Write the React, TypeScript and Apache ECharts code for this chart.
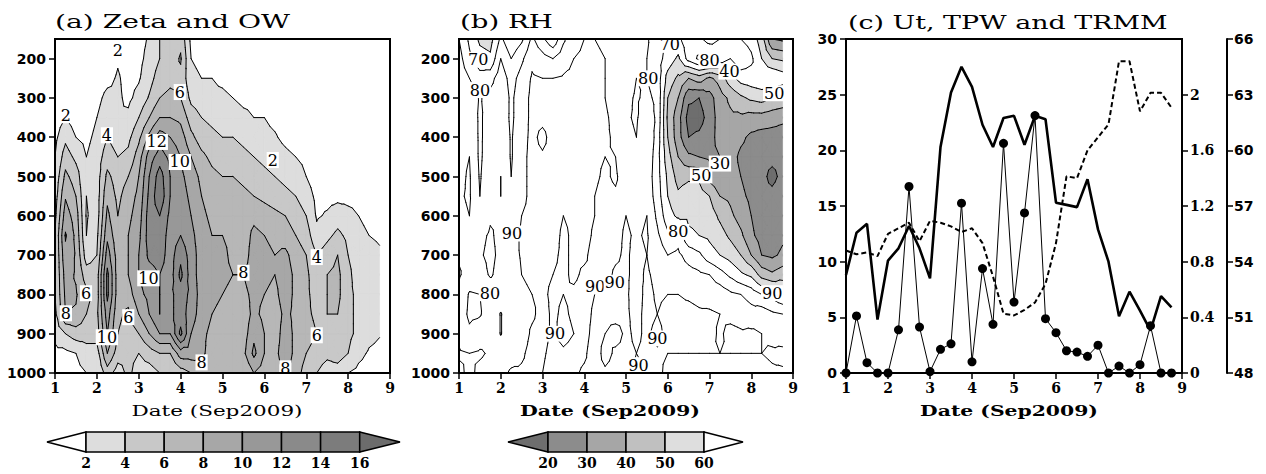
import React, { useEffect, useRef } from 'react';
import * as echarts from 'echarts';

// 6-hourly analysis times (day of September 2009)
const times = [1, 1.25, 1.5, 1.75, 2, 2.25, 2.5, 2.75, 3, 3.25, 3.5, 3.75, 4, 4.25, 4.5, 4.75, 5, 5.25, 5.5, 5.75, 6, 6.25, 6.5, 6.75, 7, 7.25, 7.5, 7.75, 8, 8.25, 8.5, 8.75];
// pressure levels (hPa), top to bottom
const pressureLevels = [150, 200, 250, 300, 350, 400, 450, 500, 550, 600, 650, 700, 750, 800, 850, 900, 950, 1000];
const pressureTicks = [200, 300, 400, 500, 600, 700, 800, 900, 1000];

// Relative vorticity / OW (1e-5 s-1): one vertical profile per time, 150 -> 1000 hPa
const zetaProfiles = [
  [0, 0, 0, 0.5, 1, 1.5, 2, 2.5, 3, 3.5, 4, 4, 4, 4, 3.5, 2.5, 1.5, 1],
  [0, 0, 0, 0.5, 2, 3.5, 5, 6.5, 7.8, 9, 10.2, 9.5, 8.8, 8.4, 8, 4, 1.5, 1],
  [0, 0, 0, 0.5, 1, 2, 3.5, 5, 6, 7, 7.5, 7.8, 7.8, 8.2, 7.8, 5, 2, 1.5],
  [0, 0, 0.5, 0.5, 1, 1.5, 2, 2, 2, 1.8, 2, 3, 5, 6.5, 6, 5, 3, 2],
  [0, 0.5, 1, 1.5, 2, 2.5, 3, 3, 3, 3, 3.5, 4, 5, 5, 5.5, 5, 3, 2],
  [0.5, 1, 1.5, 2.5, 3, 4, 5, 6.5, 7.5, 8.5, 9.5, 11, 12.5, 12.5, 11, 10, 8, 5],
  [1.5, 1.8, 2.2, 2.3, 2, 3, 4, 5, 5.5, 6, 6.5, 7, 7, 7, 6.5, 6, 5, 3],
  [1.2, 1.2, 1.4, 1.6, 2.4, 3.5, 4.5, 6, 7, 7.5, 8, 8, 8, 7, 5.5, 5, 4.5, 4.5],
  [1.4, 1.5, 1.8, 2.6, 4, 5.5, 7, 8, 8.5, 9, 9.5, 10, 10, 9.5, 8, 6, 4, 3],
  [2.2, 2.6, 3.2, 4.2, 6, 8.5, 11, 12, 12.5, 13, 13, 12.5, 11, 10.5, 10, 8, 5, 3],
  [4, 4, 5, 6, 8, 11, 13, 15, 15.5, 14, 13.5, 13, 12, 12, 12, 10, 6, 4],
  [4.5, 5, 5.5, 6.5, 8, 10, 11.5, 12, 12, 11.5, 11, 11, 11, 11.5, 11.5, 10, 6, 4],
  [5.5, 6.2, 5.5, 6, 7.5, 9, 10, 10.5, 11, 11.5, 12, 13.5, 14.5, 13, 13, 14.5, 9, 5],
  [1.5, 2, 2.5, 3.5, 5, 6.5, 8, 9, 9.5, 10, 10.5, 11, 11, 11.5, 11, 10, 9, 6],
  [0.5, 1.5, 2, 3, 4, 5, 6.5, 7.5, 8, 8.5, 9, 9, 9, 9, 9, 8.5, 8.5, 7],
  [0, 1, 2, 2.5, 3.5, 4.5, 5.5, 6.5, 7, 7.5, 8, 8, 8, 8.5, 8, 7.5, 7, 6],
  [0, 0.5, 1.5, 2.5, 3, 4, 5, 6, 7, 7.5, 8, 8.5, 8.5, 8, 7.5, 7, 7, 6.5],
  [0, 0.5, 1, 2, 3, 4, 5, 6, 7, 7.5, 7.5, 7.5, 8, 7.5, 7, 7, 7, 6],
  [0, 0, 1, 1.5, 2.5, 3.5, 4.5, 5.5, 6.5, 7, 7, 7, 8, 7.5, 7, 7, 7.5, 6],
  [0, 0, 0.5, 1.5, 2, 3, 4, 5, 6, 7.5, 8.5, 9, 9, 8.5, 8.5, 9.5, 10.5, 8],
  [0, 0, 0.5, 1, 2, 2.5, 3.5, 4.5, 5.5, 7, 8, 8.5, 8.5, 8, 7.5, 8, 8, 7],
  [0, 0, 0, 0.5, 1.5, 2.2, 3, 4, 5, 6.5, 7.5, 8, 8, 7.5, 7, 7, 7.5, 7],
  [0, 0, 0, 0.5, 1, 1.5, 2.5, 3.5, 4.5, 6, 7, 8.5, 9, 9, 8.5, 9, 9, 8.5],
  [0, 0, 0, 0, 0.5, 1, 2, 3, 4, 5, 6, 7, 7.5, 7.5, 7.5, 7.5, 7.5, 7],
  [0, 0, 0, 0, 0, 0.5, 1.5, 2, 3, 4, 5, 6, 6.5, 6.5, 6.5, 7, 6, 5],
  [0, 0, 0, 0, 0, 0, 0.5, 1, 1.5, 1.8, 2.5, 4, 4.5, 5, 5.5, 6, 5, 4],
  [0, 0, 0, 0, 0, 0, 0.5, 1, 1.5, 2.2, 3.5, 5, 6, 6, 6, 5.5, 4.5, 3],
  [0, 0, 0, 0, 0, 0, 0.5, 1, 1.5, 3, 4.5, 6, 6.5, 6.5, 6, 5.5, 5, 3],
  [0, 0, 0, 0, 0, 0, 0.5, 1, 1.5, 2.5, 3.5, 4, 4.5, 4.5, 4.5, 4.5, 4, 2],
  [0, 0, 0, 0, 0, 0, 0.5, 1, 1.5, 2, 2.5, 3, 3, 3.5, 3.5, 3.5, 2.5, 1.5],
  [0, 0, 0, 0, 0, 0, 0, 0.5, 1, 1.5, 2, 2.5, 2.5, 3, 3, 2.5, 1.8, 1.2],
  [0, 0, 0, 0, 0, 0, 0, 0.5, 1, 1.5, 1.8, 2.2, 2.5, 2.5, 2.4, 2.1, 1.6, 1.2],
];

// Relative humidity (%): one vertical profile per time, 150 -> 1000 hPa
const rhProfiles = [
  [80, 84, 86, 88, 88, 87, 88, 88, 89, 88, 88, 89, 91, 88, 86, 88, 91, 88],
  [68, 72, 80, 86, 88, 89, 90, 91, 91, 90, 89, 88, 86, 79, 78, 82, 90, 92],
  [58, 64, 74, 79, 78, 78, 78, 79, 80, 84, 88, 89, 86, 80, 79, 86, 91, 88],
  [56, 62, 76, 84, 86, 86, 87, 88, 88, 89, 91, 92, 91, 84, 86, 88, 89, 87],
  [72, 80, 86, 88, 87, 88, 89, 90, 90, 89, 88, 88, 87, 86, 79.5, 79.5, 86, 88],
  [62, 70, 76, 78, 78, 79, 79, 80, 81, 84, 88, 86, 84, 84, 85, 86, 87, 91],
  [68, 78, 84, 86, 86, 87, 88, 88, 89, 90, 91, 91, 90, 89, 88, 87, 89, 91],
  [82, 88, 91, 92, 92, 92, 92, 92, 91, 91, 91, 91, 91, 90, 89, 91, 92, 92],
  [72, 84, 90, 92, 92, 88, 91, 92, 92, 92, 92, 91, 91, 91, 92, 92, 91, 90],
  [62, 80, 90, 92, 93, 93, 92, 92, 92, 92, 92, 91, 90, 89, 89, 89, 88, 87],
  [78, 86, 91, 93, 93, 93, 93, 92, 91, 90, 89, 89, 89, 90, 91, 92, 89, 88],
  [88, 90, 92, 93, 93, 93, 93, 93, 92, 91, 91, 91, 91, 89, 89, 90, 88, 89],
  [90, 91, 92, 92, 92, 92, 92, 92, 92, 92, 92, 91, 89, 88, 88, 88, 89, 91],
  [90, 91, 91, 91, 91, 91, 91, 91, 90, 90, 89, 88, 89, 90, 91, 92, 93, 92],
  [89, 90, 90, 90, 91, 91, 90, 89, 88, 88, 88, 88, 88, 91, 91, 90, 88, 91],
  [88, 89, 88, 87, 88, 89, 90, 91, 89, 88, 88, 89, 91, 91, 92, 88, 91, 92],
  [87, 86, 84, 82, 81, 82, 84, 86, 87, 90, 91, 91, 91, 91, 91, 91, 91, 92],
  [86, 82, 80, 79, 79, 80, 82, 84, 85, 88, 89, 88, 88, 87, 88, 89, 90, 89],
  [82, 80, 80, 82, 86, 89, 88, 86, 87, 90, 91, 90, 91, 92, 92, 91, 91, 90],
  [70, 74, 76, 78, 78, 76, 74, 74, 75, 78, 82, 86, 88, 89, 90, 88, 91, 92],
  [74, 66, 56, 50, 48, 50, 54, 58, 60, 64, 72, 80, 86, 90, 92, 92, 90, 88],
  [68, 58, 48, 40, 34, 34, 40, 46, 52, 58, 76, 82, 86, 90, 92, 92, 90, 88],
  [76, 74, 40, 22, 16, 20, 32, 48, 56, 58, 62, 76, 84, 89, 92, 93, 90, 88],
  [72, 82, 45, 20, 16, 22, 30, 48, 55, 57, 60, 72, 82, 88, 91, 92, 90, 89],
  [66, 82, 38, 26, 24, 26, 28, 36, 50, 55, 58, 64, 80, 87, 91, 92, 90, 88],
  [70, 76, 44, 36, 35, 34, 30, 32, 40, 48, 54, 60, 74, 86, 90, 89, 90, 88],
  [78, 70, 56, 42, 38, 36, 34, 34, 38, 42, 48, 56, 68, 82, 88, 92, 90, 89],
  [70, 78, 64, 48, 38, 32, 28, 30, 32, 36, 42, 50, 62, 80, 87, 91, 90, 88],
  [66, 72, 66, 52, 36, 28, 26, 26, 28, 30, 32, 40, 58, 76, 84, 92, 90, 88],
  [55, 60, 68, 54, 36, 26, 22, 22, 22, 24, 26, 30, 46, 70, 86, 90, 90, 88],
  [30, 50, 70, 50, 34, 26, 22, 18, 22, 22, 24, 28, 42, 66, 82, 88, 91, 89],
  [28, 48, 66, 48, 32, 26, 22, 22, 24, 26, 28, 32, 46, 60, 80, 86, 92, 89],
];

// shading thresholds and greys
const zetaBounds = [2, 4, 6, 8, 10, 12, 14, 16];
const zetaFills = [null, '#dddddd', '#c8c8c8', '#b7b7b7', '#a7a7a7', '#989898', '#8a8a8a', '#7c7c7c', '#6c6c6c'];
const zetaLineLevels = [2, 4, 6, 8, 10, 12, 14, 16];
const rhBounds = [20, 30, 40, 50, 60];
const rhFills = ['#6e6e6e', '#8c8c8c', '#a6a6a6', '#c0c0c0', '#dedede', null];
const rhLineLevels = [20, 30, 40, 50, 60, 70, 80, 90];

// contour labels: [day, hPa, text]
const zetaLabels: [number, number, string][] = [
  [1.26, 344, '2'], [2.5, 179, '2'], [6.2, 458, '2'], [2.24, 395, '4'], [3.98, 285, '6'],
  [3.43, 412, '12'], [3.98, 463, '10'], [7.25, 705, '4'], [1.26, 848, '8'], [1.74, 797, '6'],
  [3.23, 759, '10'], [5.5, 745, '8'], [2.75, 858, '6'], [2.24, 909, '10'], [7.25, 904, '6'],
  [4.5, 973, '8'], [6.5, 988, '8'],
];
const rhLabels: [number, number, string][] = [
  [1.46, 203, '70'], [1.5, 280, '80'], [5.53, 250, '80'], [6.05, 165, '70'], [7.0, 205, '80'],
  [7.48, 233, '40'], [8.55, 288, '50'], [6.8, 497, '50'], [7.25, 467, '30'], [2.27, 645, '90'],
  [6.25, 641, '80'], [1.74, 797, '80'], [4.26, 780, '90'], [4.73, 770, '90'], [3.3, 900, '90'],
  [5.75, 912, '90'], [5.3, 980, '90'], [8.5, 797, '90'],
];

// panel (c) time series
const utWind = [8.8, 12.6, 13.4, 4.8, 10.1, 11.2, 13.2, 11.2, 8.5, 20.3, 25.2, 27.5, 25.7, 22.3, 20.3, 22.9, 23.1, 20.5, 23.1, 22.8, 15.3, 15.1, 14.9, 17.4, 12.9, 10.0, 5.1, 7.3, 5.6, 3.8, 6.9, 5.9];
const tpw = [54.6, 54.4, 54.5, 54.3, 55.5, 55.8, 56.1, 55.1, 56.2, 56.1, 55.9, 55.6, 55.8, 55.0, 53.2, 51.2, 51.1, 51.4, 51.8, 52.8, 55.0, 58.6, 58.5, 60.0, 60.7, 61.4, 64.8, 64.8, 62.1, 63.1, 63.1, 62.3];
const trmm = [0, 0.41, 0.074, 0, 0, 0.31, 1.34, 0.33, 0.01, 0.17, 0.21, 1.22, 0.08, 0.75, 0.35, 1.65, 0.51, 1.15, 1.85, 0.39, 0.29, 0.16, 0.15, 0.12, 0.2, 0, 0.05, 0, 0.06, 0.34, 0, 0];

// ---- filled contour geometry (piecewise-linear on triangles) ----
type V3 = [number, number, number];

function clipPoly(poly: V3[], c: number, keepAbove: boolean): V3[] {
  const out: V3[] = [];
  for (let i = 0; i < poly.length; i++) {
    const a = poly[i];
    const b = poly[(i + 1) % poly.length];
    const ain = keepAbove ? a[2] >= c : a[2] <= c;
    const bin = keepAbove ? b[2] >= c : b[2] <= c;
    if (ain) out.push(a);
    if (ain !== bin) {
      const t = (c - a[2]) / (b[2] - a[2]);
      out.push([a[0] + t * (b[0] - a[0]), a[1] + t * (b[1] - a[1]), c]);
    }
  }
  return out;
}

function buildContours(profiles: number[][], bounds: number[], fills: (string | null)[], lineLevels: number[]) {
  const bandPolys: number[][][][] = fills.map(() => []);
  const segs: number[][][][] = lineLevels.map(() => []);
  for (let i = 0; i < times.length - 1; i++) {
    for (let j = 0; j < pressureLevels.length - 1; j++) {
      const a: V3 = [times[i], pressureLevels[j], profiles[i][j]];
      const b: V3 = [times[i + 1], pressureLevels[j], profiles[i + 1][j]];
      const c: V3 = [times[i + 1], pressureLevels[j + 1], profiles[i + 1][j + 1]];
      const d: V3 = [times[i], pressureLevels[j + 1], profiles[i][j + 1]];
      const m: V3 = [(a[0] + b[0]) / 2, (a[1] + d[1]) / 2, (a[2] + b[2] + c[2] + d[2]) / 4];
      const tris: V3[][] = [[a, b, m], [b, c, m], [c, d, m], [d, a, m]];
      for (const tri of tris) {
        for (let k = 0; k < fills.length; k++) {
          if (!fills[k]) continue;
          let poly: V3[] = tri;
          if (k > 0) poly = clipPoly(poly, bounds[k - 1], true);
          if (poly.length >= 3 && k < bounds.length) poly = clipPoly(poly, bounds[k], false);
          if (poly.length >= 3) bandPolys[k].push(poly.map((p) => [p[0], p[1]]));
        }
        lineLevels.forEach((lv, li) => {
          const pts: number[][] = [];
          for (let e = 0; e < 3; e++) {
            const p = tri[e];
            const q = tri[(e + 1) % 3];
            if ((p[2] >= lv) !== (q[2] >= lv)) {
              const t = (lv - p[2]) / (q[2] - p[2]);
              pts.push([p[0] + t * (q[0] - p[0]), p[1] + t * (q[1] - p[1])]);
            }
          }
          if (pts.length === 2) segs[li].push(pts);
        });
      }
    }
  }
  return { bandPolys, segs };
}

const zetaGeom = buildContours(zetaProfiles, zetaBounds, zetaFills, zetaLineLevels);
const rhGeom = buildContours(rhProfiles, rhBounds, rhFills, rhLineLevels);

// multi-polygon and multi-segment shapes so each band / level is one path
const ContourFill = echarts.graphic.extendShape({
  type: 'contourFill',
  shape: { polys: [] as number[][][] },
  buildPath(ctx: any, shape: any) {
    for (const poly of shape.polys) {
      ctx.moveTo(poly[0][0], poly[0][1]);
      for (let k = 1; k < poly.length; k++) ctx.lineTo(poly[k][0], poly[k][1]);
      ctx.closePath();
    }
  },
});
const ContourLines = echarts.graphic.extendShape({
  type: 'contourLines',
  shape: { segs: [] as number[][][] },
  buildPath(ctx: any, shape: any) {
    for (const s of shape.segs) {
      ctx.moveTo(s[0][0], s[0][1]);
      ctx.lineTo(s[1][0], s[1][1]);
    }
  },
});
echarts.graphic.registerShape('contourFill', ContourFill);
echarts.graphic.registerShape('contourLines', ContourLines);

function contourRenderer(geom: ReturnType<typeof buildContours>, fills: (string | null)[], labels: [number, number, string][]) {
  return (_params: any, api: any) => {
    const px = (p: number[]) => api.coord([p[0], p[1]]);
    const children: any[] = [];
    geom.bandPolys.forEach((polys, k) => {
      const col = fills[k];
      if (!col || !polys.length) return;
      children.push({
        type: 'contourFill',
        shape: { polys: polys.map((poly) => poly.map(px)) },
        style: { fill: col, stroke: col, lineWidth: 0.6 },
        silent: true,
      });
    });
    geom.segs.forEach((segs) => {
      if (!segs.length) return;
      children.push({
        type: 'contourLines',
        shape: { segs: segs.map((s) => [px(s[0]), px(s[1])]) },
        style: { fill: 'none', stroke: '#000', lineWidth: 1, lineCap: 'round' },
        silent: true,
      });
    });
    labels.forEach(([x, p, t]) => {
      const [cx, cy] = px([x, p]);
      children.push({
        type: 'text',
        x: cx,
        y: cy,
        style: {
          text: t,
          font: '16px "DejaVu Serif"',
          fill: '#000',
          align: 'center',
          verticalAlign: 'middle',
          backgroundColor: '#fff',
          padding: [0, 1, 0, 1],
        },
        silent: true,
      });
    });
    return { type: 'group', children };
  };
}

function measure(text: string, font: string) {
  const ctx = document.createElement('canvas').getContext('2d')!;
  ctx.font = font;
  return ctx.measureText(text).width || 1;
}

function stretchedText(text: string, x: number, y: number, width: number, size: number, bold: boolean, align: string) {
  const font = `${bold ? 'bold ' : ''}${size}px "DejaVu Serif"`;
  const w = measure(text, font);
  return {
    type: 'text',
    x,
    y,
    scaleX: width / w,
    style: { text, font, fill: '#000', align, verticalAlign: 'middle' },
    silent: true,
  };
}

function colorBar(bounds: number[], fills: (string | null)[], tipL: number, start: number, step: number, tipR: number) {
  const top = 432;
  const bot = 452;
  const mid = (top + bot) / 2;
  const els: any[] = [];
  const stroke = { stroke: '#000', lineWidth: 1.5 };
  const end = start + step * (bounds.length - 1);
  els.push({ type: 'polygon', shape: { points: [[start, top], [tipL, mid], [start, bot]] }, style: { fill: fills[0] || '#fff', ...stroke } });
  for (let k = 1; k < bounds.length; k++) {
    els.push({ type: 'rect', shape: { x: start + step * (k - 1), y: top, width: step, height: bot - top }, style: { fill: fills[k] || '#fff', ...stroke } });
  }
  els.push({ type: 'polygon', shape: { points: [[end, top], [tipR, mid], [end, bot]] }, style: { fill: fills[bounds.length] || '#fff', ...stroke } });
  bounds.forEach((b, k) => {
    els.push({
      type: 'text',
      x: start + step * k,
      y: 463,
      style: { text: String(b), font: 'bold 14px "DejaVu Serif"', fill: '#000', align: 'center', verticalAlign: 'middle' },
    });
  });
  return els;
}

function buildOption() {
  const axisLine = { show: true, onZero: false, lineStyle: { color: '#000', width: 2 } };
  const axisTick = { show: true, length: 6, lineStyle: { color: '#000', width: 1.5 } };
  const plain = (v: number) => String(Math.round(v * 100) / 100);
  const sansLabel = { fontFamily: 'DejaVu Sans', fontWeight: 'bold', fontSize: 14, color: '#000', formatter: plain };
  const serifLabel = { fontFamily: 'DejaVu Serif', fontWeight: 'bold', fontSize: 14, color: '#000', formatter: plain };
  const gridBase = { top: 39, height: 334, show: true, borderColor: '#000', borderWidth: 2, backgroundColor: 'transparent', z: 10 };

  const xAxes = [0, 1, 2].map((g) => ({
    gridIndex: g,
    type: 'value',
    min: 1,
    max: 9,
    interval: 1,
    axisLine,
    axisTick,
    axisLabel: { ...serifLabel, margin: 8 },
    splitLine: { show: false },
    z: 10,
  }));
  const pressureAxis = (g: number) => ({
    gridIndex: g,
    type: 'value',
    inverse: true,
    min: 150,
    max: 1000,
    axisLine,
    axisTick: { ...axisTick, customValues: pressureTicks },
    axisLabel: { ...sansLabel, margin: 9, customValues: pressureTicks },
    splitLine: { show: false },
    z: 10,
  });

  return {
    animation: false,
    backgroundColor: '#fff',
    grid: [
      { ...gridBase, left: 55, width: 335 },
      { ...gridBase, left: 459, width: 334 },
      { ...gridBase, left: 846, width: 336 },
    ],
    xAxis: xAxes,
    yAxis: [
      pressureAxis(0),
      pressureAxis(1),
      {
        gridIndex: 2, type: 'value', position: 'left', min: 0, max: 30, interval: 5,
        axisLine, axisTick, axisLabel: { ...sansLabel, margin: 9 }, splitLine: { show: false }, z: 10,
      },
      {
        gridIndex: 2, type: 'value', position: 'right', min: 0, max: 2.4, interval: 0.4,
        axisLine, axisTick, axisLabel: { ...serifLabel, margin: 8, showMaxLabel: false }, splitLine: { show: false }, z: 10,
      },
      {
        gridIndex: 2, type: 'value', position: 'right', offset: 45, min: 48, max: 66, interval: 3,
        axisLine, axisTick, axisLabel: { ...sansLabel, margin: 7 }, splitLine: { show: false }, z: 10,
      },
    ],
    series: [
      {
        type: 'custom',
        xAxisIndex: 0,
        yAxisIndex: 0,
        z: 2,
        data: [[1, 150]],
        renderItem: contourRenderer(zetaGeom, zetaFills, zetaLabels),
      },
      {
        type: 'custom',
        xAxisIndex: 1,
        yAxisIndex: 1,
        z: 2,
        data: [[1, 150]],
        renderItem: contourRenderer(rhGeom, rhFills, rhLabels),
      },
      {
        name: 'Ut',
        type: 'line',
        xAxisIndex: 2,
        yAxisIndex: 2,
        data: times.map((t, i) => [t, utWind[i]]),
        symbol: 'none',
        lineStyle: { color: '#000', width: 2.6 },
        z: 4,
      },
      {
        name: 'TPW',
        type: 'line',
        xAxisIndex: 2,
        yAxisIndex: 4,
        data: times.map((t, i) => [t, tpw[i]]),
        symbol: 'none',
        lineStyle: { color: '#000', width: 2, type: [5, 3] },
        z: 4,
      },
      {
        name: 'TRMM',
        type: 'line',
        xAxisIndex: 2,
        yAxisIndex: 3,
        data: times.map((t, i) => [t, trmm[i]]),
        symbol: 'circle',
        symbolSize: 9,
        showSymbol: true,
        itemStyle: { color: '#000' },
        lineStyle: { color: '#000', width: 1 },
        z: 5,
      },
    ],
    graphic: [
      stretchedText('(a) Zeta and OW', 55, 22, 235, 19, false, 'left'),
      stretchedText('(b) RH', 460, 22, 93, 19, false, 'left'),
      stretchedText('(c) Ut, TPW and TRMM', 848, 22, 320, 19, false, 'left'),
      stretchedText('Date (Sep2009)', 217, 411, 171, 15, false, 'center'),
      stretchedText('Date (Sep2009)', 610, 411, 180, 15, true, 'center'),
      stretchedText('Date (Sep2009)', 1009, 411, 178, 15, true, 'center'),
      ...colorBar(zetaBounds, zetaFills, 47, 86, 39.1, 400),
      ...colorBar(rhBounds, rhFills, 508, 548, 39, 743),
    ],
  };
}

export default function App() {
  const ref = useRef<HTMLDivElement>(null);
  useEffect(() => {
    const chart = echarts.init(ref.current!, null, { renderer: 'svg' });
    chart.setOption(buildOption() as any);
    return () => chart.dispose();
  }, []);
  return (
    <div
      ref={ref}
      style={{ position: 'absolute', left: 0, top: 0, width: 1266, height: 474, background: '#fff' }}
    />
  );
}
